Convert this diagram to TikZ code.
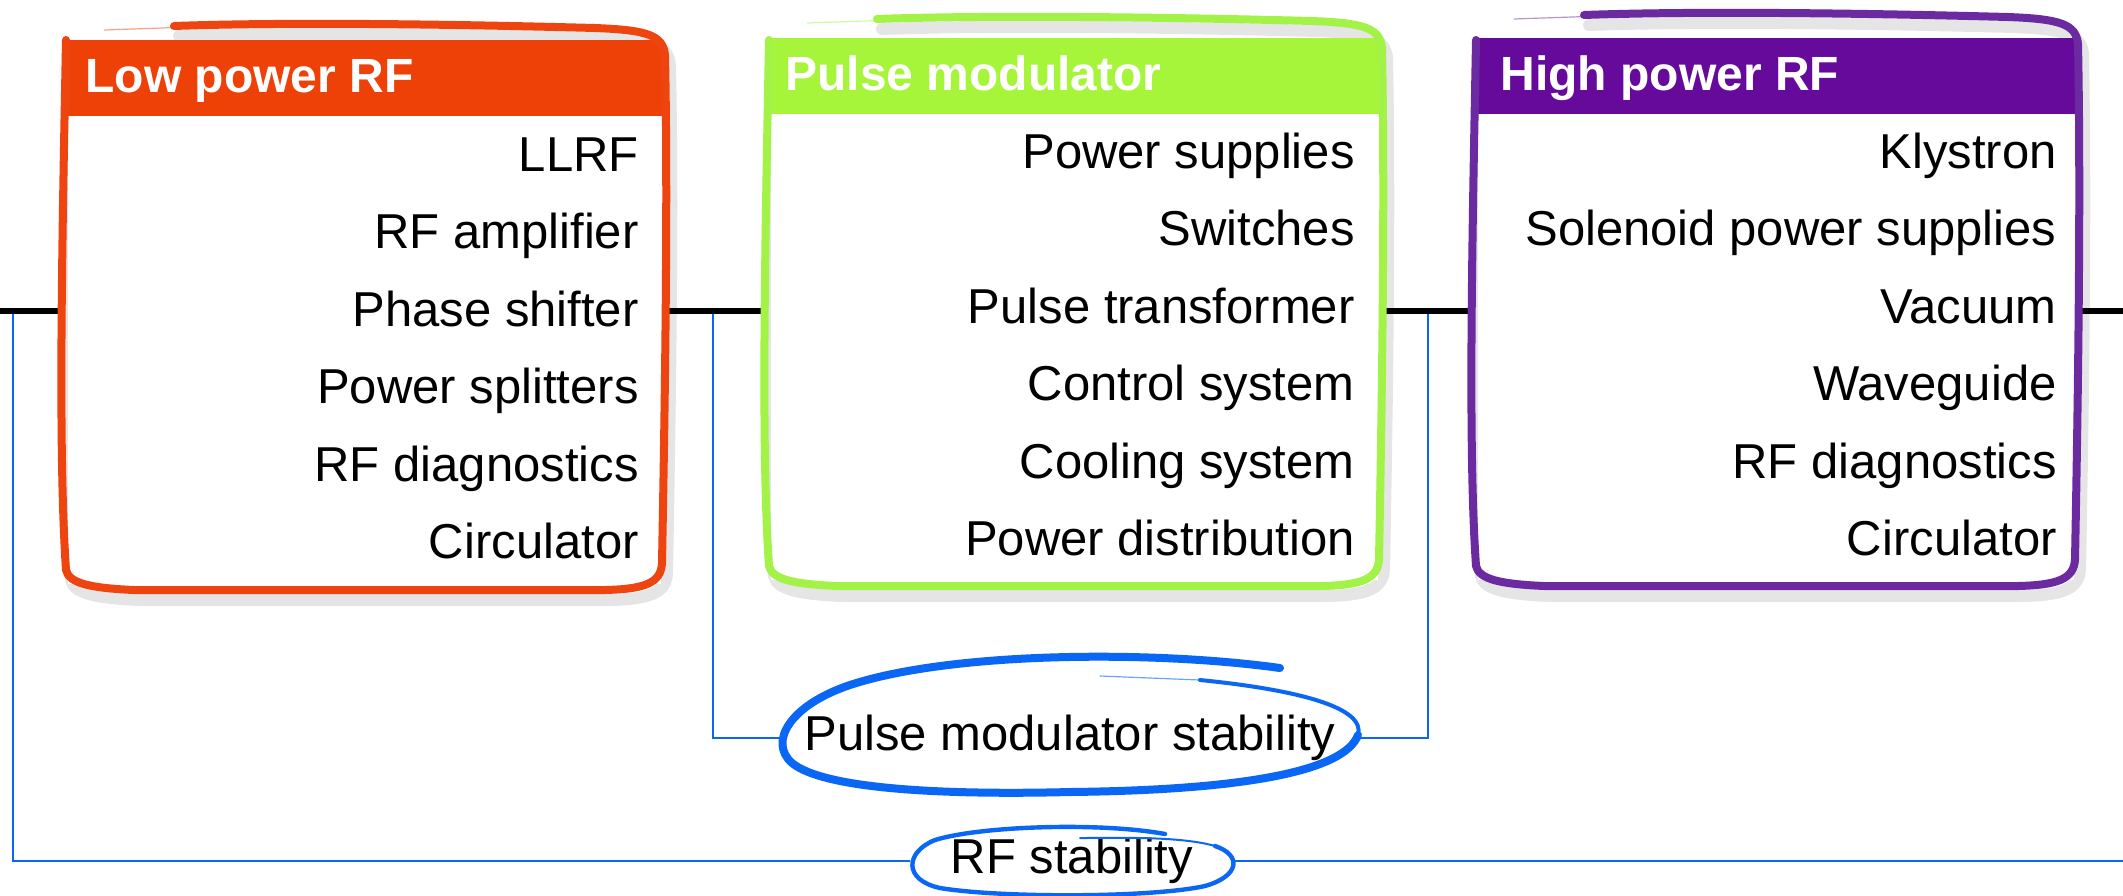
\documentclass[tikz,border=0pt]{standalone}
\usepackage{fontspec}
\setmainfont{Liberation Sans}
\usetikzlibrary{fit}
\definecolor{lpc}{HTML}{EE4108}
\definecolor{lpo}{HTML}{EE4510}
\definecolor{pmc}{HTML}{A6F53A}
\definecolor{pmo}{HTML}{A2F248}
\definecolor{hpc}{HTML}{650A9B}
\definecolor{hpo}{HTML}{6B2AA0}
\definecolor{bl}{HTML}{0A66F5}
\newcommand\sketchbox[5]{%
\draw[#5] ({#1+2},40) .. controls ({#1-2},250) and ({#1-6},450) .. ({#1+2},{#4-18})
 .. controls ({#1+5},{#4-5}) and ({#1+25},{#4}) .. ({#1+70},{#4+2}) -- ({#2-60},{#4+2})
 .. controls ({#2-20},{#4+1}) and ({#2-4},{#4-5}) .. ({#2-3},{#4-25})
 .. controls ({#2},400) and ({#2+3},200) .. ({#2},{#3+28})
 .. controls ({#2-2},{#3+8}) and ({#2-18},{#3+3}) .. ({#2-70},{#3+1})
 .. controls ({#2-220},{#3-3}) and ({#1+220},{#3-5}) .. ({#1+110},{#3-1});}
\newcommand\sketchtail[3]{%
\draw[#3, line width=0.6pt, opacity=.5] ({#1+300},{#2-6}) -- ({#1+40},{#2+3});}
\begin{document}
\begin{tikzpicture}[x=0.5pt,y=-0.5pt,
  item/.style={anchor=base east, inner sep=0, font=\fontsize{24.5}{28}\selectfont},
  title/.style={anchor=base west, inner sep=0, text=white, font=\fontsize{24}{28}\selectfont\bfseries},
  label/.style={rectangle, inner sep=0, font=\fontsize{24.5}{28}\selectfont},
  spine/.style={line width=2.8pt, black},
  link/.style={bl, line width=1pt},
  outline/.style={line width=4pt, line cap=round, line join=round},
  shadowline/.style={outline, black, opacity=.1, line width=6pt, shift={(5,10)}},
  ring/.style={bl, line cap=round, line join=round}]
\useasboundingbox (0,0) rectangle (2123,895);

% frames (named boxes)
\coordinate (lpNW) at (64,27);  \coordinate (lpSE) at (665,588);
\coordinate (pmNW) at (767,20); \coordinate (pmSE) at (1382,584);
\coordinate (hpNW) at (1474,16); \coordinate (hpSE) at (2078,584);
\node[fit=(lpNW)(lpSE), inner sep=0] (lp) {};
\node[fit=(pmNW)(pmSE), inner sep=0] (pm) {};
\node[fit=(hpNW)(hpSE), inner sep=0] (hp) {};

% stability labels
\node[label, minimum width=162pt, minimum height=32pt] (rfs) at (1072,861) {RF stability};
\node[label, minimum width=288pt, minimum height=50pt] (pms) at (1070,738) {Pulse modulator stability};

% blue feedback connectors
\coordinate (a1) at (13,312);  \coordinate (a2) at (13,861);  \coordinate (a3) at (2123,861);
\coordinate (b1) at (713,312); \coordinate (b2) at (713,738);
\coordinate (c1) at (1428,312); \coordinate (c2) at (1428,738);
\draw[link] (a1) -- (a2) -- (rfs.west);
\draw[link] (rfs.east) -- (a3);
\draw[link] (b1) -- (b2) -- (pms.west);
\draw[link] (pms.east) -- (c2) -- (c1);

% black spine
\coordinate (s0) at (0,311); \coordinate (s1) at (2123,311);
\draw[spine] (s0) -- (s0 -| lp.west);
\draw[spine] (lp.east |- s0) -- (pm.west |- s0);
\draw[spine] (pm.east |- s0) -- (hp.west |- s0);
\draw[spine] (hp.east |- s0) -- (s1);

% shadows
\sketchbox{64}{665}{27}{588}{shadowline}
\sketchbox{767}{1382}{20}{584}{shadowline}
\sketchbox{1474}{2078}{16}{584}{shadowline}

% white interiors
\fill[white] (68,40) rectangle (661,584);
\fill[white] (771,38) rectangle (1378,580);
\fill[white] (1478,38) rectangle (2074,580);

% headers
\fill[lpc] (65,40) rectangle (662,116);
\fill[pmc] (768,38) rectangle (1379,114);
\fill[hpc] (1476,38) rectangle (2076,114);

% outlines
\sketchbox{64}{665}{27}{588}{outline, lpo}
\sketchtail{64}{27}{lpo}
\sketchbox{767}{1382}{20}{584}{outline, pmo}
\sketchtail{767}{20}{pmo}
\sketchbox{1474}{2078}{16}{584}{outline, hpo}
\sketchtail{1474}{16}{hpo}

% titles
\node[title] (lpt) at (85,92) {Low power RF};
\node[title] (pmt) at (785,90) {Pulse modulator};
\node[title] (hpt) at (1500,90) {High power RF};

% items
\node[item] (lp1) at (639,171) {LLRF};
\node[item] (lp2) at (639,248.5) {RF amplifier};
\node[item] (lp3) at (639,326) {Phase shifter};
\node[item] (lp4) at (639,403.5) {Power splitters};
\node[item] (lp5) at (639,481) {RF diagnostics};
\node[item] (lp6) at (639,558.5) {Circulator};

\node[item] (pm1) at (1355,168) {Power supplies};
\node[item] (pm2) at (1355,245.5) {Switches};
\node[item] (pm3) at (1355,323) {Pulse transformer};
\node[item] (pm4) at (1355,400.5) {Control system};
\node[item] (pm5) at (1355,478) {Cooling system};
\node[item] (pm6) at (1355,555.5) {Power distribution};

\node[item] (hp1) at (2057,168) {Klystron};
\node[item] (hp2) at (2057,245.5) {Solenoid power supplies};
\node[item] (hp3) at (2057,323) {Vacuum};
\node[item] (hp4) at (2057,400.5) {Waveguide};
\node[item] (hp5) at (2057,478) {RF diagnostics};
\node[item] (hp6) at (2057,555.5) {Circulator};

% hand-drawn rings
\draw[ring, line width=4pt] (1280,668) .. controls (1150,650) and (950,652) .. (850,685)
  .. controls (790,705) and (768,742) .. (792,763)
  .. controls (825,790) and (950,795) .. (1070,792)
  .. controls (1250,790) and (1345,770) .. (1358,735);
\draw[ring, line width=2pt] (1358,735) .. controls (1366,708) and (1300,690) .. (1200,680);
\draw[ring, line width=0.6pt, opacity=.6] (1200,680) -- (1100,676);

\draw[ring, line width=2.2pt] (1165,834) .. controls (1100,822) and (980,826) .. (935,840)
  .. controls (905,852) and (903,880) .. (940,888)
  .. controls (1000,898) and (1150,898) .. (1205,886)
  .. controls (1240,876) and (1242,855) .. (1215,846);
\draw[ring, line width=1pt] (1215,846) .. controls (1180,836) and (1120,838) .. (1080,838);
\end{tikzpicture}
\end{document}
